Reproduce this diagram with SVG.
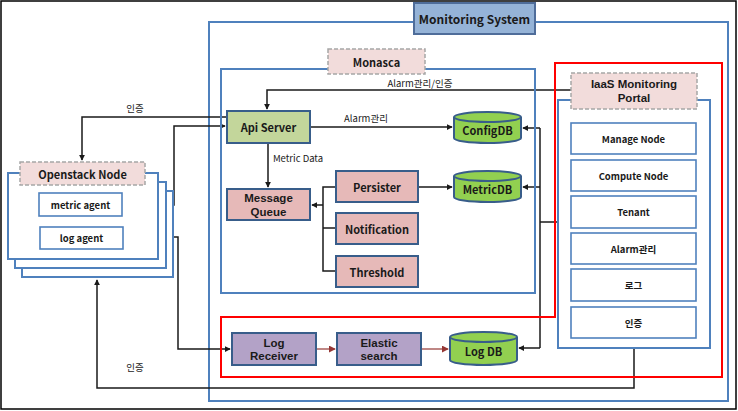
<svg xmlns="http://www.w3.org/2000/svg" width="738" height="411" viewBox="0 0 738 411">
<style>
text{font-family:"Noto Sans CJK KR","Noto Sans",sans-serif;fill:#1a1a1a;text-anchor:middle;dominant-baseline:central}
.b{font-weight:bold;font-size:11px}
.two{font-family:"Liberation Sans",Arial,sans-serif;font-size:11.5px}
.t{font-size:9.5px}
.pi{font-size:9.5px;font-weight:600}
.frame{fill:none;stroke:#4f81bd;stroke-width:2}
.lbl{fill:#f2dcdb;stroke:#a6a6a6;stroke-width:1.5;stroke-dasharray:4 2}
.node{stroke:#385d8a;stroke-width:2}
.white{fill:#fff;stroke:#4f81bd;stroke-width:1.6}
.green{fill:#c3d69b}
.pink{fill:#e6b9b8}
.purple{fill:#b3a2c7}
.db{fill:#92d050;stroke:#385d8a;stroke-width:2}
.c{fill:none;stroke:#1a1a1a;stroke-width:1.5}
.r{fill:none;stroke:#953735;stroke-width:1.2}
.red{fill:none;stroke:#ff0000;stroke-width:2}
</style>
<defs>
<marker id="a" viewBox="0 0 8 8" refX="7" refY="4" markerWidth="6" markerHeight="6" orient="auto" markerUnits="userSpaceOnUse"><path d="M0,0L8,4L0,8z" fill="#1a1a1a"/></marker>
<marker id="ar" viewBox="0 0 8 8" refX="7" refY="4" markerWidth="7" markerHeight="7" orient="auto" markerUnits="userSpaceOnUse"><path d="M0,0L8,4L0,8z" fill="#953735"/></marker>
</defs>
<rect x="1" y="1" width="735" height="408" fill="#fff" stroke="#000" stroke-width="1.5"/>

<g id="monitoring-system">
<rect class="frame" x="209" y="22" width="519" height="379"/>
<rect x="414" y="3" width="121" height="31" fill="#95b3d7" stroke="#4f6d9a" stroke-width="2"/>
<text class="b" x="474.5" y="18.5" style="font-size:12px">Monitoring System</text>
</g>

<g id="connectors">
<path class="c" d="M227,117H82V160" marker-end="url(#a)"/>
<path class="c" d="M122,205H174V126H225" marker-end="url(#a)"/>
<path class="c" d="M123,237H178V349H230" marker-end="url(#a)"/>
<path class="c" d="M634,348V388H97V280" marker-end="url(#a)"/>
<path class="c" d="M571,90H267V109" marker-end="url(#a)"/>
<path class="c" d="M310,127H452" marker-end="url(#a)"/>
<path class="c" d="M268,143V187" marker-end="url(#a)"/>
<path class="c" d="M336,187H323V271H336M323,228H336"/>
<path class="c" d="M323,205H312" marker-end="url(#a)"/>
<path class="c" d="M418,187H452" marker-end="url(#a)"/>
<path class="c" d="M558,222H540"/>
<path class="c" d="M540,128V348"/>
<path class="c" d="M540,128H523" marker-end="url(#a)"/>
<path class="c" d="M540,187H523" marker-end="url(#a)"/>
<path class="c" d="M540,348H519" marker-end="url(#a)"/>
<path class="r" d="M316,349H335" marker-end="url(#ar)"/>
<path class="r" d="M421,349H448" marker-end="url(#ar)"/>
<text class="t" x="135" y="108">인증</text>
<text class="t" x="135" y="367">인증</text>
<text class="t" x="420" y="83">Alarm관리/인증</text>
<text class="t" x="366" y="118">Alarm관리</text>
<text class="t" x="298" y="158">Metric Data</text>
</g>

<g id="monasca">
<path class="frame" d="M328,69H221V293H535V69H425"/>
<rect class="lbl" x="328" y="49" width="97" height="25"/>
<text class="b" x="376.5" y="61.5">Monasca</text>
</g>

<g id="red-region">
<path class="red" d="M555,317V63H722V377H221V317Z"/>
</g>

<g id="iaas-portal">
<rect class="frame" x="558" y="100" width="152" height="248" fill="#fff"/>
<rect class="lbl" x="571" y="73" width="126" height="36"/>
<text class="b two" x="634" y="84">IaaS Monitoring</text>
<text class="b two" x="634" y="98">Portal</text>
</g>
<g id="manage-node"><rect class="white" x="571" y="123" width="125" height="31"/><text class="pi" x="633.5" y="138.5">Manage  Node</text></g>
<g id="compute-node"><rect class="white" x="571" y="160" width="125" height="31"/><text class="pi" x="633.5" y="175.5">Compute Node</text></g>
<g id="tenant"><rect class="white" x="571" y="196" width="125" height="32"/><text class="pi" x="633.5" y="212">Tenant</text></g>
<g id="alarm-mgmt"><rect class="white" x="571" y="233" width="125" height="31"/><text class="pi" x="633.5" y="248.5">Alarm관리</text></g>
<g id="log-menu"><rect class="white" x="571" y="269" width="125" height="32"/><text class="pi" x="633.5" y="285">로그</text></g>
<g id="auth-menu"><rect class="white" x="571" y="307" width="125" height="31"/><text class="pi" x="633.5" y="322.5">인증</text></g>

<g id="openstack-node">
<rect x="22" y="191" width="151" height="86" fill="#fff" stroke="#4f81bd" stroke-width="2"/>
<rect x="15" y="182" width="151" height="86" fill="#fff" stroke="#4f81bd" stroke-width="2"/>
<rect x="8" y="173" width="150" height="86" fill="#fff" stroke="#4f81bd" stroke-width="2"/>
<rect class="lbl" x="20" y="162" width="125" height="23"/>
<text class="b" x="82.5" y="173.5">Openstack Node</text>
</g>
<g id="metric-agent"><rect class="white" x="39" y="193" width="83" height="23" stroke="#385d8a"/><text class="pi" x="80.5" y="204.5">metric agent</text></g>
<g id="log-agent"><rect class="white" x="40" y="227" width="83" height="22" stroke="#385d8a"/><text class="pi" x="81.5" y="238">log agent</text></g>

<g id="api-server"><rect class="node green" x="227" y="111" width="83" height="32"/><text class="b" x="268.5" y="127">Api Server</text></g>
<g id="message-queue"><rect class="node pink" x="227" y="189" width="83" height="31"/><text class="b two" x="268.5" y="198">Message</text><text class="b two" x="268.5" y="211.5">Queue</text></g>
<g id="persister"><rect class="node pink" x="336" y="171" width="82" height="31"/><text class="b" x="377" y="186.5">Persister</text></g>
<g id="notification"><rect class="node pink" x="336" y="213" width="82" height="31"/><text class="b" x="377" y="228.5">Notification</text></g>
<g id="threshold"><rect class="node pink" x="336" y="256" width="82" height="31"/><text class="b" x="377" y="271.5">Threshold</text></g>

<g id="configdb">
<path class="db" d="M454,117V138A33.5,5 0 0 0 521,138V117"/>
<ellipse class="db" cx="487.5" cy="117" rx="33.5" ry="5"/>
<text class="b" x="487.5" y="130">ConfigDB</text>
</g>
<g id="metricdb">
<path class="db" d="M454,176V197A33.5,5 0 0 0 521,197V176"/>
<ellipse class="db" cx="487.5" cy="176" rx="33.5" ry="5"/>
<text class="b" x="487.5" y="189">MetricDB</text>
</g>

<g id="log-receiver"><rect class="node purple" x="232" y="333" width="84" height="32"/><text class="b two" x="274" y="342.5">Log</text><text class="b two" x="274" y="356">Receiver</text></g>
<g id="elastic-search"><rect class="node purple" x="337" y="333" width="84" height="32"/><text class="b two" x="379" y="342.5">Elastic</text><text class="b two" x="379" y="356">search</text></g>
<g id="log-db">
<path class="db" d="M450,337V360A33.5,5 0 0 0 517,360V337"/>
<ellipse class="db" cx="483.5" cy="337" rx="33.5" ry="5"/>
<text class="b" x="483.5" y="351">Log DB</text>
</g>
</svg>
